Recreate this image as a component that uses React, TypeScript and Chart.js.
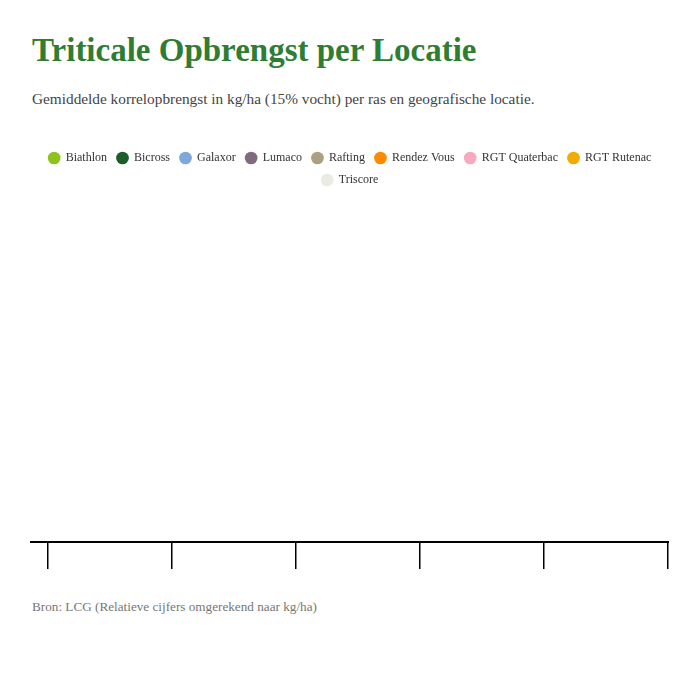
import { useEffect, useRef } from "react"
import Chart from "chart.js/auto"

// Locations (x categories) - tick labels are not shown in the chart
const locations = ["Locatie 1", "Locatie 2", "Locatie 3", "Locatie 4", "Locatie 5"]

// Varieties and their legend colours
const varieties = [
  "Biathlon",
  "Bicross",
  "Galaxor",
  "Lumaco",
  "Rafting",
  "Rendez Vous",
  "RGT Quaterbac",
  "RGT Rutenac",
  "Triscore",
]
const colors = [
  "#8dc21f",
  "#1b5e2b",
  "#7da7dd",
  "#7f6b7e",
  "#a9a17f",
  "#ff8a00",
  "#f7aabd",
  "#f2ab00",
  "#e9ece2",
]

// Yields in kg/ha per location - no bars are drawn in the chart
const biathlon = [null, null, null, null, null]
const bicross = [null, null, null, null, null]
const galaxor = [null, null, null, null, null]
const lumaco = [null, null, null, null, null]
const rafting = [null, null, null, null, null]
const rendezVous = [null, null, null, null, null]
const quaterbac = [null, null, null, null, null]
const rutenac = [null, null, null, null, null]
const triscore = [null, null, null, null, null]

const series = [biathlon, bicross, galaxor, lumaco, rafting, rendezVous, quaterbac, rutenac, triscore]

// draws the x axis line from the canvas' left edge to the end of the axis
const axisLine = {
  id: "axisLine",
  afterDraw(chart: Chart) {
    const x = chart.scales.x
    const ctx = chart.ctx
    ctx.save()
    ctx.strokeStyle = "#000"
    ctx.lineWidth = 2
    ctx.beginPath()
    ctx.moveTo(0, x.top)
    ctx.lineTo(x.right + 1, x.top)
    ctx.stroke()
    ctx.restore()
  },
}

// empty side axes that only reserve some room
const blankAxis = (position: "left" | "right", width: number) => ({
  position,
  grid: { display: false },
  border: { display: false },
  ticks: { display: false },
  afterFit: (scale: any) => {
    scale.width = width
  },
})

export default function App() {
  const chartRef = useRef<HTMLCanvasElement>(null)
  const chartInstance = useRef<Chart | null>(null)

  useEffect(() => {
    if (!chartRef.current) return
    if (chartInstance.current) chartInstance.current.destroy()

    chartInstance.current = new Chart(chartRef.current, {
      type: "bar",
      data: {
        labels: locations,
        datasets: varieties.map((name, i) => ({
          label: name,
          data: series[i],
          backgroundColor: colors[i],
          borderColor: colors[i],
          yAxisID: "y",
        })),
      },
      options: {
        animation: false,
        responsive: true,
        maintainAspectRatio: false,
        layout: { padding: { top: 1 } },
        scales: {
          x: {
            offset: true,
            grid: {
              offset: true,
              drawOnChartArea: false,
              tickLength: 27,
              color: "#000",
              lineWidth: 1.5,
            },
            border: { display: false },
            ticks: { display: false },
          },
          y: blankAxis("left", 18),
          y1: blankAxis("right", 2),
        },
        plugins: {
          legend: {
            position: "top",
            labels: {
              usePointStyle: true,
              pointStyle: "circle",
              boxWidth: 11,
              boxHeight: 9,
              padding: 10,
              color: "#333",
              font: { family: "'Liberation Serif', serif", size: 12 },
            },
          },
          tooltip: { enabled: false },
        },
      },
      plugins: [axisLine],
    })

    return () => {
      if (chartInstance.current) {
        chartInstance.current.destroy()
        chartInstance.current = null
      }
    }
  }, [])

  return (
    <div style={{ padding: "24px 24px 24px 24px", fontFamily: "'Liberation Serif', serif" }}>
      <h1
        style={{
          margin: 0,
          fontSize: 33,
          lineHeight: "36px",
          fontWeight: 700,
          color: "#2e7d32",
        }}
      >
        Triticale Opbrengst per Locatie
      </h1>
      <div style={{ marginTop: 21, fontSize: 15.3, lineHeight: "20px", color: "#444" }}>
        Gemiddelde korrelopbrengst in kg/ha (15% vocht) per ras en geografische locatie.
      </div>
      <div style={{ marginTop: 32, marginLeft: -2, width: 640, height: 428, position: "relative" }}>
        <canvas ref={chartRef} />
      </div>
      <div style={{ marginTop: 29, fontSize: 13.2, lineHeight: "18px", color: "#777" }}>
        Bron: LCG (Relatieve cijfers omgerekend naar kg/ha)
      </div>
    </div>
  )
}
